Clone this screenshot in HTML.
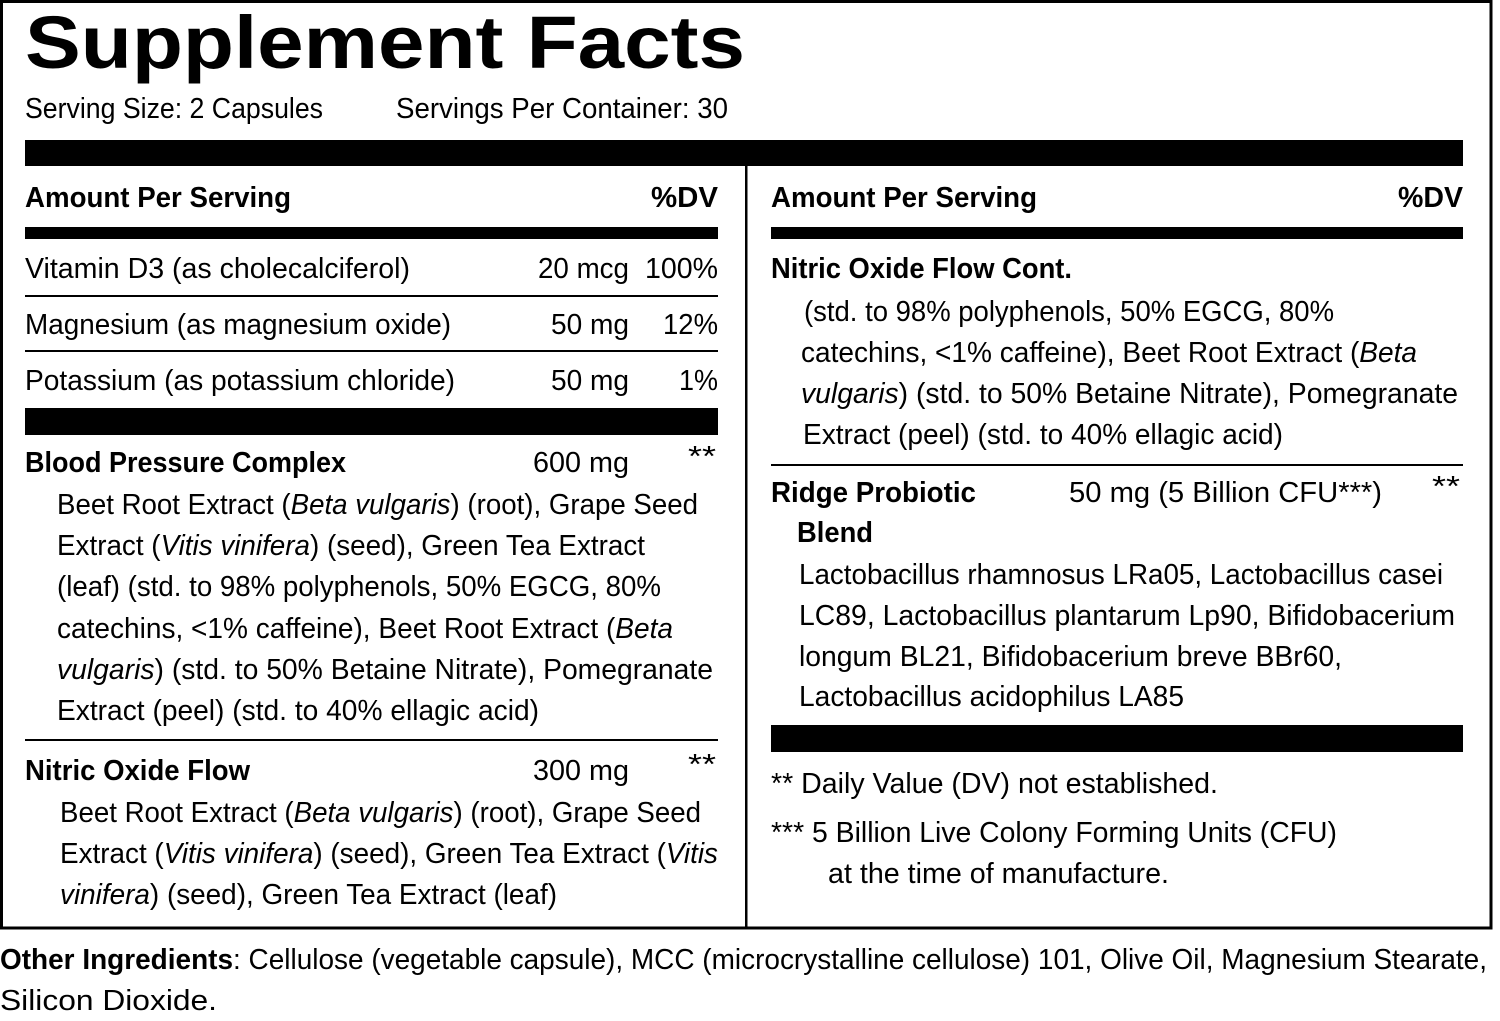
<!DOCTYPE html>
<html><head><meta charset="utf-8"><style>
html,body{margin:0;padding:0;background:#fff;}
svg{display:block;}
text{font-family:"Liberation Sans",sans-serif;font-size:29px;fill:#000;}
.b{font-weight:bold;}
</style></head><body>
<svg width="1500" height="1021" viewBox="0 0 1500 1021" xmlns="http://www.w3.org/2000/svg">
<text x="25" y="68" class="b" style="font-size:74px" textLength="720" lengthAdjust="spacingAndGlyphs">Supplement Facts</text>
<text x="25" y="118" textLength="298" lengthAdjust="spacingAndGlyphs">Serving Size: 2 Capsules</text>
<text x="396" y="118" textLength="332" lengthAdjust="spacingAndGlyphs">Servings Per Container: 30</text>
<rect x="1.5" y="1.5" width="1489.5" height="926.5" fill="none" stroke="#000" stroke-width="3"/>
<rect x="25" y="140" width="1438" height="26" fill="#000"/>
<rect x="745" y="166" width="2.5" height="762" fill="#000"/>
<text x="25" y="207" class="b" textLength="266" lengthAdjust="spacingAndGlyphs">Amount Per Serving</text>
<text x="651" y="207" class="b" textLength="67" lengthAdjust="spacingAndGlyphs">%DV</text>
<text x="771" y="207" class="b" textLength="266" lengthAdjust="spacingAndGlyphs">Amount Per Serving</text>
<text x="1398" y="207" class="b" textLength="65" lengthAdjust="spacingAndGlyphs">%DV</text>
<rect x="25" y="227" width="693" height="12" fill="#000"/>
<rect x="771" y="227" width="692" height="12" fill="#000"/>

<text x="25" y="278" textLength="385" lengthAdjust="spacingAndGlyphs">Vitamin D3 (as cholecalciferol)</text>
<text x="538" y="278" textLength="91" lengthAdjust="spacingAndGlyphs">20 mcg</text>
<text x="645" y="278" textLength="73" lengthAdjust="spacingAndGlyphs">100%</text>
<rect x="25" y="295" width="693" height="2" fill="#000"/>
<text x="25" y="334" textLength="426" lengthAdjust="spacingAndGlyphs">Magnesium (as magnesium oxide)</text>
<text x="551" y="334" textLength="78" lengthAdjust="spacingAndGlyphs">50 mg</text>
<text x="663" y="334" textLength="55" lengthAdjust="spacingAndGlyphs">12%</text>
<rect x="25" y="350" width="693" height="2" fill="#000"/>
<text x="25" y="390" textLength="430" lengthAdjust="spacingAndGlyphs">Potassium (as potassium chloride)</text>
<text x="551" y="390" textLength="78" lengthAdjust="spacingAndGlyphs">50 mg</text>
<text x="679" y="390" textLength="39" lengthAdjust="spacingAndGlyphs">1%</text>
<rect x="25" y="408" width="693" height="27" fill="#000"/>

<text x="25" y="472" class="b" textLength="321" lengthAdjust="spacingAndGlyphs">Blood Pressure Complex</text>
<text x="533" y="472" textLength="96" lengthAdjust="spacingAndGlyphs">600 mg</text>
<text x="688" y="466" textLength="28" lengthAdjust="spacingAndGlyphs">**</text>
<text x="57" y="514" textLength="641" lengthAdjust="spacingAndGlyphs">Beet Root Extract (<tspan font-style="italic">Beta vulgaris</tspan>) (root), Grape Seed</text>
<text x="57" y="555" textLength="588" lengthAdjust="spacingAndGlyphs">Extract (<tspan font-style="italic">Vitis vinifera</tspan>) (seed), Green Tea Extract</text>
<text x="57" y="596" textLength="604" lengthAdjust="spacingAndGlyphs">(leaf) (std. to 98% polyphenols, 50% EGCG, 80%</text>
<text x="57" y="638" textLength="616" lengthAdjust="spacingAndGlyphs">catechins, &lt;1% caffeine), Beet Root Extract (<tspan font-style="italic">Beta</tspan></text>
<text x="57" y="679" textLength="656" lengthAdjust="spacingAndGlyphs"><tspan font-style="italic">vulgaris</tspan>) (std. to 50% Betaine Nitrate), Pomegranate</text>
<text x="57" y="720" textLength="482" lengthAdjust="spacingAndGlyphs">Extract (peel) (std. to 40% ellagic acid)</text>
<rect x="25" y="739" width="693" height="2" fill="#000"/>

<text x="25" y="780" class="b" textLength="225" lengthAdjust="spacingAndGlyphs">Nitric Oxide Flow</text>
<text x="533" y="780" textLength="96" lengthAdjust="spacingAndGlyphs">300 mg</text>
<text x="688" y="774" textLength="28" lengthAdjust="spacingAndGlyphs">**</text>
<text x="60" y="822" textLength="641" lengthAdjust="spacingAndGlyphs">Beet Root Extract (<tspan font-style="italic">Beta vulgaris</tspan>) (root), Grape Seed</text>
<text x="60" y="863" textLength="658" lengthAdjust="spacingAndGlyphs">Extract (<tspan font-style="italic">Vitis vinifera</tspan>) (seed), Green Tea Extract (<tspan font-style="italic">Vitis</tspan></text>
<text x="60" y="904" textLength="497" lengthAdjust="spacingAndGlyphs"><tspan font-style="italic">vinifera</tspan>) (seed), Green Tea Extract (leaf)</text>

<text x="771" y="278" class="b" textLength="301" lengthAdjust="spacingAndGlyphs">Nitric Oxide Flow Cont.</text>
<text x="804" y="321" textLength="530" lengthAdjust="spacingAndGlyphs">(std. to 98% polyphenols, 50% EGCG, 80%</text>
<text x="801" y="362" textLength="616" lengthAdjust="spacingAndGlyphs">catechins, &lt;1% caffeine), Beet Root Extract (<tspan font-style="italic">Beta</tspan></text>
<text x="801" y="403" textLength="657" lengthAdjust="spacingAndGlyphs"><tspan font-style="italic">vulgaris</tspan>) (std. to 50% Betaine Nitrate), Pomegranate</text>
<text x="803" y="444" textLength="480" lengthAdjust="spacingAndGlyphs">Extract (peel) (std. to 40% ellagic acid)</text>
<rect x="771" y="464" width="692" height="2" fill="#000"/>

<text x="771" y="502" class="b" textLength="205" lengthAdjust="spacingAndGlyphs">Ridge Probiotic</text>
<text x="797" y="542" class="b" textLength="76" lengthAdjust="spacingAndGlyphs">Blend</text>
<text x="1069" y="502" textLength="313" lengthAdjust="spacingAndGlyphs">50 mg (5 Billion CFU***)</text>
<text x="1432" y="496" textLength="28" lengthAdjust="spacingAndGlyphs">**</text>
<text x="799" y="584" textLength="644" lengthAdjust="spacingAndGlyphs">Lactobacillus rhamnosus LRa05, Lactobacillus casei</text>
<text x="799" y="625" textLength="656" lengthAdjust="spacingAndGlyphs">LC89, Lactobacillus plantarum Lp90, Bifidobacerium</text>
<text x="799" y="666" textLength="543" lengthAdjust="spacingAndGlyphs">longum BL21, Bifidobacerium breve BBr60,</text>
<text x="799" y="706" textLength="385" lengthAdjust="spacingAndGlyphs">Lactobacillus acidophilus LA85</text>
<rect x="771" y="725" width="692" height="27" fill="#000"/>
<text x="771" y="793" textLength="447" lengthAdjust="spacingAndGlyphs">** Daily Value (DV) not established.</text>
<text x="771" y="842" textLength="566" lengthAdjust="spacingAndGlyphs">*** 5 Billion Live Colony Forming Units (CFU)</text>
<text x="828" y="883" textLength="341" lengthAdjust="spacingAndGlyphs">at the time of manufacture.</text>

<text x="0" y="969" textLength="1487" lengthAdjust="spacingAndGlyphs"><tspan font-weight="bold">Other Ingredients</tspan>: Cellulose (vegetable capsule), MCC (microcrystalline cellulose) 101, Olive Oil, Magnesium Stearate,</text>
<text x="0" y="1010" textLength="217" lengthAdjust="spacingAndGlyphs">Silicon Dioxide.</text>
</svg>
</body></html>
